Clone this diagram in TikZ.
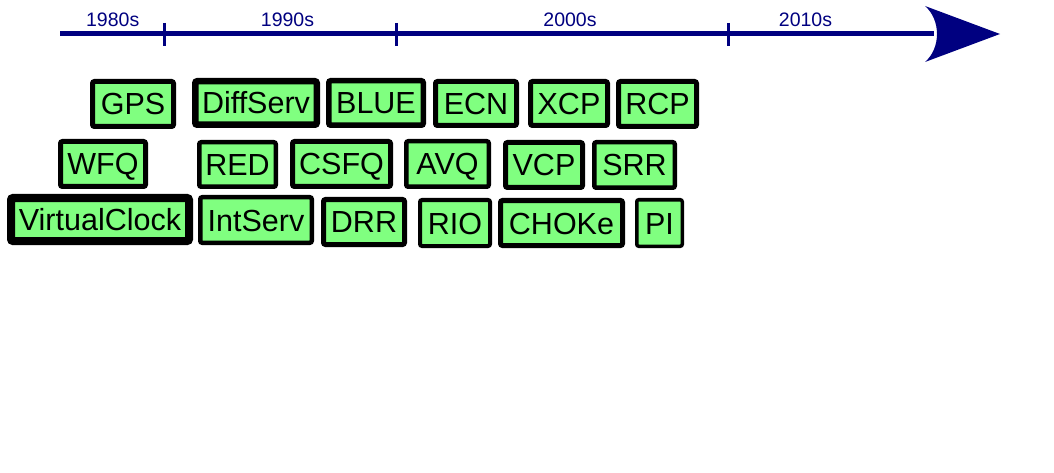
\documentclass[tikz,border=0pt]{standalone}
\usepackage{fontspec}
\setmainfont{Liberation Sans}
\definecolor{axisblue}{RGB}{0,0,128}
\definecolor{boxgreen}{RGB}{128,255,128}
\tikzset{
  tbox/.style={draw=black, fill=boxgreen, rounded corners=2pt, inner sep=0pt,
    text height=22pt, text depth=0pt, font=\fontsize{30.5}{36}\selectfont},
  decade/.style={text=axisblue, inner sep=0pt, font=\fontsize{19.5}{22}\selectfont},
  axisline/.style={draw=axisblue, line width=5pt},
  tickline/.style={draw=axisblue, line width=3pt},
}
\begin{document}
\begin{tikzpicture}[x=1pt,y=-1pt]
\path[fill=white] (0,0) rectangle (1054,473);
\useasboundingbox (0,0) rectangle (1054,473);

% axis
\coordinate (a0) at (60,34);
\coordinate (a1) at (934,34);
\coordinate (tip) at (1000,34);
\coordinate (bt) at (925,6);
\coordinate (bb) at (925,62);
\path[axisline] (a0) -- (a1);
\fill[axisblue] (bt) -- (tip) -- (bb) .. controls (941,48) and (941,20) .. (bt) -- cycle;

\foreach \x/\n in {164/t1,396/t2,728/t3}{
  \coordinate (\n a) at (\x,23);
  \coordinate (\n b) at (\x,46);
  \path[tickline] (\n a) -- (\n b);
}

\node[decade] (d80) at (112.7,19.7) {1980s};
\node[decade] (d90) at (287.5,19.7) {1990s};
\node[decade] (d00) at (570,19.7) {2000s};
\node[decade] (d10) at (805.5,19.7) {2010s};

% row 1
\node[tbox, line width=5pt,   minimum width=81pt,   minimum height=45pt]   (gps)  at (133,104)   {GPS};
\node[tbox, line width=6.5pt, minimum width=121.5pt,minimum height=43.5pt] (diff) at (256,103)   {DiffServ};
\node[tbox, line width=5.5pt, minimum width=94.5pt, minimum height=44.5pt] (blue) at (376,103)   {BLUE};
\node[tbox, line width=5pt,   minimum width=81pt,   minimum height=44pt]   (ecn)  at (476,103.5) {ECN};
\node[tbox, line width=5pt,   minimum width=77pt,   minimum height=44pt]   (xcp)  at (569,103.5) {XCP};
\node[tbox, line width=5pt,   minimum width=78pt,   minimum height=45pt]   (rcp)  at (657.5,104) {RCP};
% row 2
\node[tbox, line width=5pt,   minimum width=85pt,   minimum height=45pt]   (wfq)  at (103,164)   {WFQ};
\node[tbox, line width=4.5pt, minimum width=76.5pt, minimum height=44.5pt] (red)  at (237.5,164.5) {RED};
\node[tbox, line width=5pt,   minimum width=98pt,   minimum height=45pt]   (csfq) at (341.5,164) {CSFQ};
\node[tbox, line width=4.5pt, minimum width=82.5pt, minimum height=45.5pt] (avq)  at (447.5,164) {AVQ};
\node[tbox, line width=5pt,   minimum width=77pt,   minimum height=45pt]   (vcp)  at (544,165)   {VCP};
\node[tbox, line width=4.5pt, minimum width=80.5pt, minimum height=45.5pt] (srr)  at (634.5,165) {SRR};
% row 3
\node[tbox, line width=8pt,   minimum width=178pt,  minimum height=43pt]   (vc)   at (100,219.5) {VirtualClock};
\node[tbox, line width=4.5pt, minimum width=111.5pt,minimum height=45.5pt] (ints) at (256,220)   {IntServ};
\node[tbox, line width=5pt,   minimum width=81pt,   minimum height=45pt]   (drr)  at (364,222)   {DRR};
\node[tbox, line width=4pt,   minimum width=70pt,   minimum height=46pt]   (rio)  at (455,223)   {RIO};
\node[tbox, line width=5pt,   minimum width=122pt,  minimum height=45pt]   (choke) at (561.5,223) {CHOKe};
\node[tbox, line width=3.5pt, minimum width=45.5pt, minimum height=46.5pt] (pi)   at (659.5,223) {PI};
\end{tikzpicture}
\end{document}
